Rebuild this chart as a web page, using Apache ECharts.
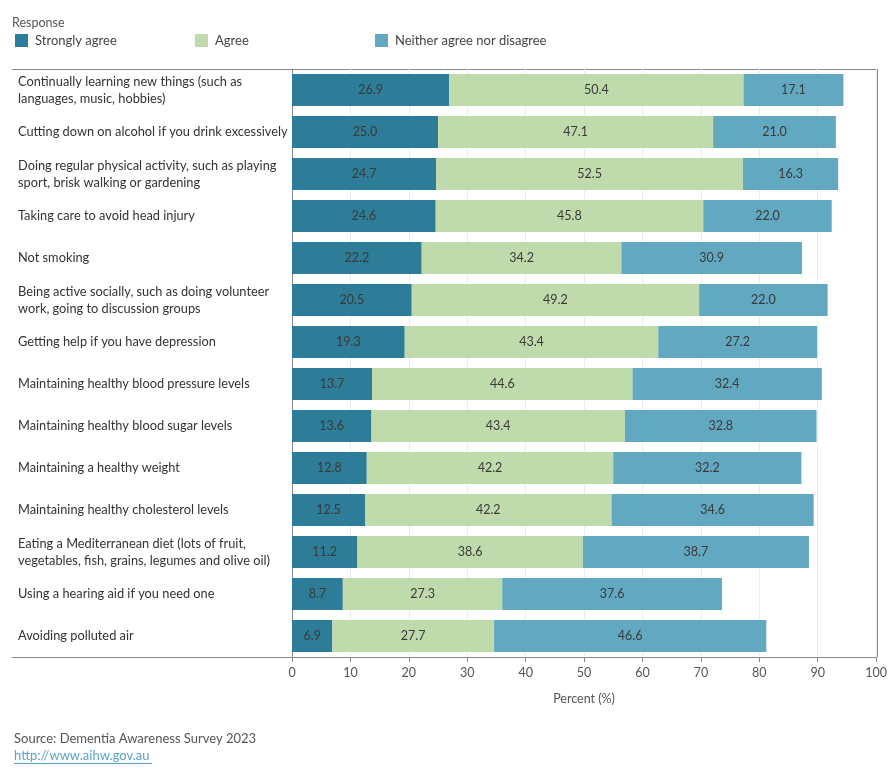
<!DOCTYPE html>
<html>
<head>
<meta charset="utf-8">
<script src="https://cdn.jsdelivr.net/npm/echarts@6/dist/echarts.min.js"></script>
<style>html,body{margin:0;padding:0;background:#fff;}#c{width:890px;height:780px;}</style>
</head>
<body>
<div id="c"></div>
<script>
const categories = [
  "Continually learning new things (such as\nlanguages, music, hobbies)",
  "Cutting down on alcohol if you drink excessively",
  "Doing regular physical activity, such as playing\nsport, brisk walking or gardening",
  "Taking care to avoid head injury",
  "Not smoking",
  "Being active socially, such as doing volunteer\nwork, going to discussion groups",
  "Getting help if you have depression",
  "Maintaining healthy blood pressure levels",
  "Maintaining healthy blood sugar levels",
  "Maintaining a healthy weight",
  "Maintaining healthy cholesterol levels",
  "Eating a Mediterranean diet (lots of fruit,\nvegetables, fish, grains, legumes and olive oil)",
  "Using a hearing aid if you need one",
  "Avoiding polluted air"
];
const stronglyAgree = [26.9, 25.0, 24.7, 24.6, 22.2, 20.5, 19.3, 13.7, 13.6, 12.8, 12.5, 11.2, 8.7, 6.9];
const agree = [50.4, 47.1, 52.5, 45.8, 34.2, 49.2, 43.4, 44.6, 43.4, 42.2, 42.2, 38.6, 27.3, 27.7];
const neither = [17.1, 21.0, 16.3, 22.0, 30.9, 22.0, 27.2, 32.4, 32.8, 32.2, 34.6, 38.7, 37.6, 46.6];
const xTicks = [0, 10, 20, 30, 40, 50, 60, 70, 80, 90, 100];

const FONT = "Lato";
const chart = echarts.init(document.getElementById('c'));
const colors = ['#2d7c98', '#bfdaab', '#62a8c1'];
function mk(name, data, color) {
  return {
    name, type: 'bar', stack: 'total', data, barWidth: 32,
    itemStyle: { color },
    label: { show: true, position: 'inside', color: '#3a3a3a', fontFamily: FONT, fontSize: 12.5,
      formatter: p => p.value.toFixed(1) },
    emphasis: { disabled: true }
  };
}
const legendBase = { top: 29, itemWidth: 13, itemHeight: 13, itemGap: 0, icon: 'rect',
  textStyle: { fontFamily: FONT, fontSize: 13, color: '#444', padding: [0, 0, 0, 2] }, selectedMode: false };
chart.setOption({
  animation: false,
  textStyle: { fontFamily: FONT },
  legend: [
    Object.assign({}, legendBase, { left: 10, data: ['Strongly agree'] }),
    Object.assign({}, legendBase, { left: 190, data: ['Agree'] }),
    Object.assign({}, legendBase, { left: 370, data: ['Neither agree nor disagree'] })
  ],
  grid: { left: 292, right: 13, top: 69, bottom: 123, containLabel: false },
  xAxis: {
    type: 'value', min: xTicks[0], max: xTicks[xTicks.length - 1], interval: 10,
    name: 'Percent (%)', nameLocation: 'middle', nameGap: 35,
    nameTextStyle: { fontFamily: FONT, fontSize: 12.5, color: '#555' },
    axisLine: { show: true, lineStyle: { color: '#888' } },
    axisTick: { show: true, length: 5, lineStyle: { color: '#888' } },
    axisLabel: { fontFamily: FONT, fontSize: 12.5, color: '#555', margin: 9 },
    splitLine: { show: true, lineStyle: { color: '#ececec' } }
  },
  yAxis: {
    type: 'category', data: categories, inverse: true,
    axisLine: { show: true, lineStyle: { color: '#888' } },
    axisTick: { show: false },
    axisLabel: { fontFamily: FONT, fontSize: 12.8, color: '#333', align: 'left', margin: 274, lineHeight: 17 },
    splitLine: { show: false }
  },
  series: [
    mk('Strongly agree', stronglyAgree, colors[0]),
    mk('Agree', agree, colors[1]),
    mk('Neither agree nor disagree', neither, colors[2])
  ],
  graphic: [
    { type: 'text', left: 12, top: 16, style: { text: 'Response', fontFamily: FONT, fontSize: 12.5, fill: '#555' } },
    { type: 'line', shape: { x1: 12, y1: 69.5, x2: 877, y2: 69.5 }, style: { stroke: '#888', lineWidth: 1 } },
    { type: 'line', shape: { x1: 12, y1: 657.5, x2: 877, y2: 657.5 }, style: { stroke: '#888', lineWidth: 1 } },
    { type: 'line', shape: { x1: 877.5, y1: 69, x2: 877.5, y2: 657 }, style: { stroke: '#888', lineWidth: 1 } },
    { type: 'text', left: 14, top: 732, style: { text: 'Source: Dementia Awareness Survey 2023', fontFamily: FONT, fontSize: 13, fill: '#555' } },
    { type: 'text', left: 14, top: 749, style: { text: 'http://www.aihw.gov.au', fontFamily: FONT, fontSize: 13, fill: '#5aa3c8' } },
    { type: 'line', shape: { x1: 14, y1: 763.5, x2: 152, y2: 763.5 }, style: { stroke: '#5aa3c8', lineWidth: 1 } }
  ]
});
</script>
</body>
</html>
